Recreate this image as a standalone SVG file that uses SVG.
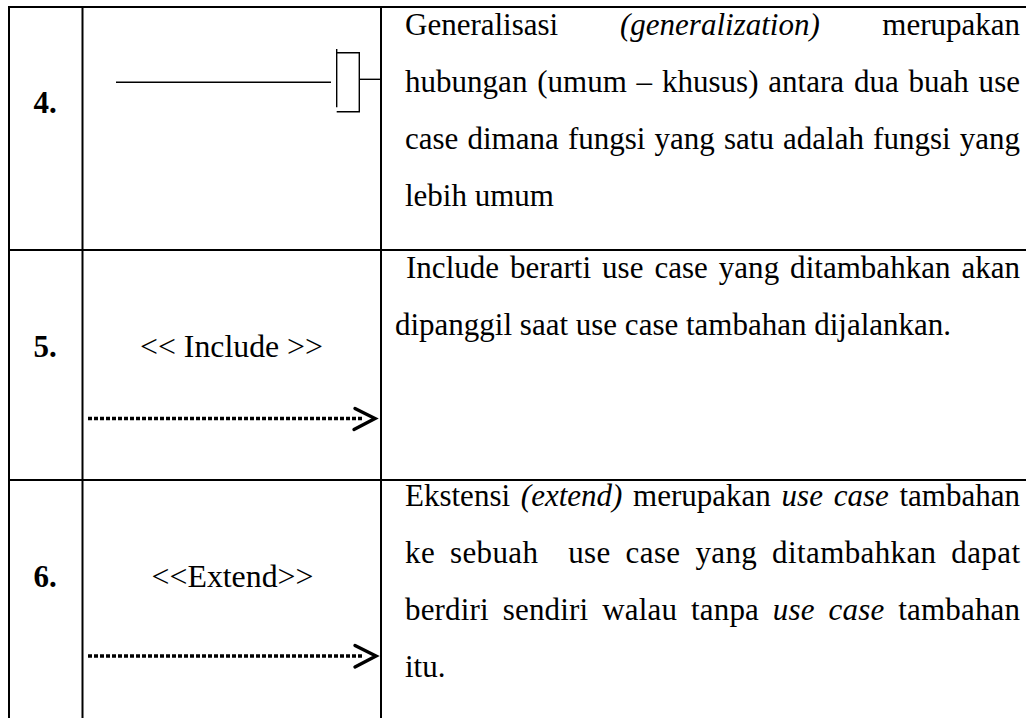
<svg xmlns="http://www.w3.org/2000/svg" width="1028" height="720" viewBox="0 0 1028 720">
<style>
.grid{stroke:#000;stroke-width:2;fill:none}
.sym{stroke:#000;stroke-width:1.4;fill:none}
.dot{stroke:#000;stroke-width:3.4;stroke-dasharray:4 2;fill:none}
.head{stroke:#000;stroke-width:3.4;fill:none;stroke-linecap:round;stroke-linejoin:miter}
.t{font-family:'Liberation Serif','Times New Roman',serif;font-size:31px;fill:#000}
.c{font-family:'Liberation Serif','Times New Roman',serif;font-size:31.8px;fill:#000}
.num{font-family:'Liberation Serif','Times New Roman',serif;font-size:31px;font-weight:bold;fill:#000}
.i{font-style:italic}
</style>
<rect width="1028" height="720" fill="#fff"/>
<g id="table">
<line class="grid" x1="9" y1="7" x2="1026" y2="7"/>
<line class="grid" x1="9" y1="250" x2="1026" y2="250"/>
<line class="grid" x1="9" y1="480" x2="1026" y2="480"/>
<line class="grid" x1="9" y1="6" x2="9" y2="718"/>
<line class="grid" x1="82.5" y1="6" x2="82.5" y2="718"/>
<line class="grid" x1="381" y1="6" x2="381" y2="718"/>
</g>
<g id="row4">
<text class="num" x="33.5" y="113">4.</text>
<text class="t" x="405" y="35">Generalisasi</text>
<text class="t i" x="620" y="35">(generalization)</text>
<text class="t" x="1020" y="35" text-anchor="end">merupakan</text>
<text class="t" x="405" y="92" word-spacing="2" textLength="615" lengthAdjust="spacing">hubungan (umum – khusus) antara dua buah use</text>
<text class="t" x="405" y="149" word-spacing="1.4" textLength="615" lengthAdjust="spacing">case dimana fungsi yang satu adalah fungsi yang</text>
<text class="t" x="405" y="206">lebih umum</text>
</g>
<g id="row5">
<text class="num" x="33.5" y="356.7">5.</text>
<text class="c" x="231.5" y="356.7" text-anchor="middle">&lt;&lt; Include &gt;&gt;</text>
<text class="t" x="406" y="278" word-spacing="3.2" textLength="614" lengthAdjust="spacing">Include berarti use case yang ditambahkan akan</text>
<text class="t" x="395" y="335">dipanggil saat use case tambahan dijalankan.</text>
</g>
<g id="row6">
<text class="num" x="33.5" y="586.7">6.</text>
<text class="c" x="232.5" y="586.7" text-anchor="middle">&lt;&lt;Extend&gt;&gt;</text>
<text class="t" x="405" y="506" word-spacing="3" textLength="615" lengthAdjust="spacing">Ekstensi <tspan class="i">(extend)</tspan> merupakan <tspan class="i">use case</tspan> tambahan</text>
<text class="t" x="405" y="563" xml:space="preserve" style="white-space:pre" word-spacing="6.8" textLength="615" lengthAdjust="spacing">ke sebuah  use case yang ditambahkan dapat</text>
<text class="t" x="405" y="620" word-spacing="5.9" textLength="615" lengthAdjust="spacing">berdiri sendiri walau tanpa <tspan class="i">use case</tspan> tambahan</text>
<text class="t" x="405" y="677">itu.</text>
</g>
<g id="connectors">
<g id="generalization">
<line class="sym" x1="116" y1="82.3" x2="331" y2="82.3"/>
<line class="sym" x1="336.7" y1="49" x2="336.7" y2="107.3"/>
<polyline class="sym" points="336.7,52.7 359.3,52.7 359.3,111.7 336.7,111.7"/>
<line class="sym" x1="359.3" y1="79.3" x2="381" y2="79.3"/>
</g>
<g id="include">
<line class="dot" x1="88" y1="418.5" x2="362" y2="418.5"/>
<polyline class="head" points="355,408.5 375,418.5 354,429.5"/>
</g>
<g id="extend">
<line class="dot" x1="88" y1="656" x2="362" y2="656"/>
<polyline class="head" points="355,645.5 376,656 355,667"/>
</g>
</g>
</svg>
